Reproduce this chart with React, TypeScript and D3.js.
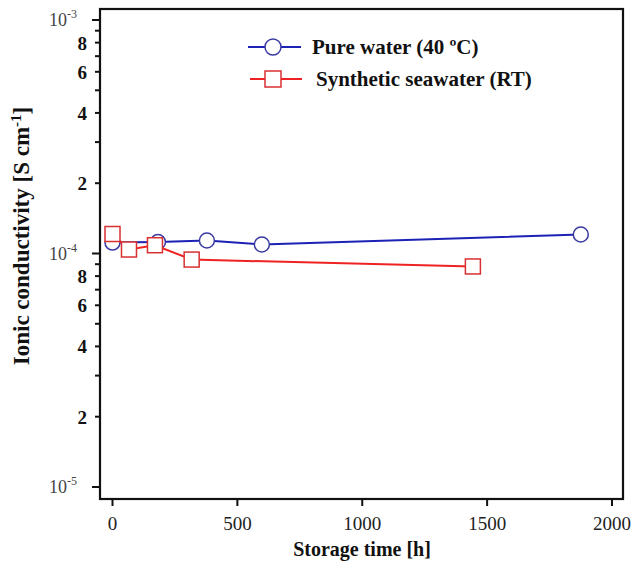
import React from "react";
import * as d3 from "d3";

const pureTime = [0, 182, 378, 598, 1875];
const pureCond = [1.114e-4, 1.12e-4, 1.137e-4, 1.093e-4, 1.206e-4];
const seaTime = [0, 66, 170, 317, 1443];
const seaCond = [1.212e-4, 1.04e-4, 1.085e-4, 9.42e-5, 8.8e-5];
const xTicks = [0, 500, 1000, 1500, 2000];
const yMajor = [1e-5, 1e-4, 1e-3];
const yLabelled = [2, 4, 6, 8];
const legendLabels = ["Pure water (40 ºC)", "Synthetic seawater (RT)"];

const W = 634;
const H = 564;
const frame = { left: 100, right: 623, top: 9, bottom: 499 };
const serif = "Liberation Serif, Times New Roman, serif";
const BLUE = "#1c22b4";
const RED = "#ee2222";

export default function App() {
  const x = d3.scaleLinear().domain([0, 2000]).range([112.5, 612]);
  const y = d3.scaleLog().domain([1e-5, 1e-3]).range([487, 20]);
  const line = d3
    .line<[number, number]>()
    .x((d) => x(d[0]))
    .y((d) => y(d[1]));
  const pure: [number, number][] = pureTime.map((t, i) => [t, pureCond[i]]);
  const sea: [number, number][] = seaTime.map((t, i) => [t, seaCond[i]]);

  const minor: number[] = [];
  [1e-5, 1e-4].forEach((dec) => {
    for (let k = 2; k <= 9; k++) minor.push(k * dec);
  });

  return (
    <svg
      width={W}
      height={H}
      style={{ position: "absolute", left: 0, top: 0, display: "block", background: "#fff" }}
    >
      <rect
        x={frame.left}
        y={frame.top}
        width={frame.right - frame.left}
        height={frame.bottom - frame.top}
        fill="none"
        stroke="#111"
        strokeWidth={2.2}
      />
      {yMajor.map((v) => (
        <g key={"M" + v}>
          <line x1={frame.left - 8} x2={frame.left} y1={y(v)} y2={y(v)} stroke="#111" strokeWidth={2} />
          <text
            x={77}
            y={y(v) + 6}
            textAnchor="end"
            fontFamily={serif}
            fontSize={18}
            fill="#444"
          >
            10
            <tspan dy={-8} fontSize={12}>
              {"-" + Math.round(-Math.log10(v))}
            </tspan>
          </text>
        </g>
      ))}
      {minor.map((v) => (
        <line key={"m" + v} x1={frame.left - 5} x2={frame.left} y1={y(v)} y2={y(v)} stroke="#111" strokeWidth={2} />
      ))}
      {[1e-5, 1e-4].map((dec) =>
        yLabelled.map((k) => (
          <text
            key={"l" + dec + k}
            x={87}
            y={y(k * dec) + 7}
            textAnchor="end"
            fontFamily={serif}
            fontWeight="bold"
            fontSize={19}
            fill="#111"
          >
            {k}
          </text>
        ))
      )}
      {xTicks.map((t) => (
        <g key={"x" + t}>
          <line x1={x(t)} x2={x(t)} y1={frame.bottom} y2={frame.bottom + 7} stroke="#111" strokeWidth={2} />
          <text
            x={x(t)}
            y={530}
            textAnchor="middle"
            fontFamily={serif}
            fontSize={19}
            fill="#222"
          >
            {t}
          </text>
        </g>
      ))}
      <text
        x={362}
        y={556}
        textAnchor="middle"
        fontFamily={serif}
        fontWeight="bold"
        fontSize={20}
        fill="#111"
      >
        Storage time [h]
      </text>
      <text
        transform={`translate(29, 236) rotate(-90)`}
        textAnchor="middle"
        fontFamily={serif}
        fontWeight="bold"
        fontSize={23}
        fill="#111"
      >
        Ionic conductivity [S cm
        <tspan dy={-8} fontSize={15}>-1</tspan>
        <tspan dy={8}>]</tspan>
      </text>
      <path d={line(pure) || ""} fill="none" stroke={BLUE} strokeWidth={2} />
      {pure.map((d, i) => (
        <circle key={"p" + i} cx={x(d[0])} cy={y(d[1])} r={7.5} fill="#fff" stroke="#3a3aa0" strokeWidth={1.5} />
      ))}
      <path d={line(sea) || ""} fill="none" stroke={RED} strokeWidth={2} />
      {sea.map((d, i) => (
        <rect
          key={"s" + i}
          x={x(d[0]) - 7.5}
          y={y(d[1]) - 7.5}
          width={15}
          height={15}
          fill="#fff"
          stroke="#d83030"
          strokeWidth={1.5}
        />
      ))}
      <line x1={248} x2={301} y1={47} y2={47} stroke={BLUE} strokeWidth={2} />
      <circle cx={273} cy={47} r={8} fill="#fff" stroke="#3a3aa0" strokeWidth={1.5} />
      <text x={312} y={54} fontFamily={serif} fontWeight="bold" fontSize={21} fill="#111">
        {legendLabels[0]}
      </text>
      <line x1={250} x2={302} y1={79} y2={79} stroke={RED} strokeWidth={2} />
      <rect x={265} y={71} width={16} height={16} fill="#fff" stroke="#d83030" strokeWidth={1.5} />
      <text x={316} y={86} fontFamily={serif} fontWeight="bold" fontSize={21} fill="#111">
        {legendLabels[1]}
      </text>
    </svg>
  );
}
